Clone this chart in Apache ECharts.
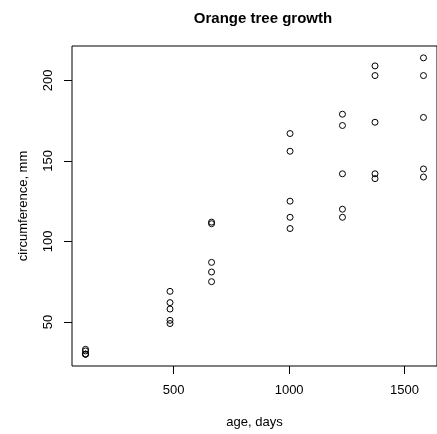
<!DOCTYPE html>
<html>
<head>
<meta charset="utf-8">
<script src="https://cdn.jsdelivr.net/npm/echarts@6/dist/echarts.min.js"></script>
<style>html,body{margin:0;padding:0;background:#fff;}#c{width:437px;height:434px;}</style>
</head>
<body>
<div id="c"></div>
<script>
// Orange tree data (age in days, circumference in mm) for trees 1..5
const ages = [118, 484, 664, 1004, 1231, 1372, 1582];
const tree1 = [30, 58, 87, 115, 120, 142, 145];
const tree2 = [33, 69, 111, 156, 172, 203, 203];
const tree3 = [30, 51, 75, 108, 115, 139, 140];
const tree4 = [32, 62, 112, 167, 179, 209, 214];
const tree5 = [30, 49, 81, 125, 142, 174, 177];
const xTicks = [500, 1000, 1500];
const yTicks = [50, 100, 150, 200];

const trees = [tree1, tree2, tree3, tree4, tree5];
const points = [];
trees.forEach(t => t.forEach((v, i) => points.push([ages[i], v])));

const xmin = 118 - 0.04 * (1582 - 118), xmax = 1582 + 0.04 * (1582 - 118);
const ymin = 30 - 0.04 * (214 - 30), ymax = 214 + 0.04 * (214 - 30);

const font = '"Liberation Sans", Arial, sans-serif';
const chart = echarts.init(document.getElementById('c'), null, {renderer: 'canvas', devicePixelRatio: 1});
chart.setOption({
  animation: false,
  backgroundColor: '#fff',
  title: {
    text: 'Orange tree growth',
    left: 258, top: 6, textAlign: 'center',
    textStyle: {fontFamily: font, fontSize: 15, fontWeight: 'bold', color: '#000'}
  },
  grid: {left: 72, top: 46, width: 375, height: 325, show: true, borderColor: '#000', borderWidth: 1, backgroundColor: 'transparent'},
  xAxis: {
    type: 'value', min: xmin, max: xmax,
    name: 'age, days', nameLocation: 'middle', nameGap: 50,
    nameTextStyle: {fontFamily: font, fontSize: 13, color: '#000'},
    axisLine: {show: false},
    splitLine: {show: false},
    axisTick: {show: true, inside: false, length: 8, lineStyle: {color: '#000'}, customValues: xTicks},
    axisLabel: {fontFamily: font, fontSize: 13, color: '#000', margin: 18, customValues: xTicks, formatter: v => String(v)}
  },
  yAxis: {
    type: 'value', min: ymin, max: ymax,
    name: 'circumference, mm', nameLocation: 'middle', nameGap: 42, nameRotate: 90,
    nameTextStyle: {fontFamily: font, fontSize: 13, color: '#000'},
    axisLine: {show: false},
    splitLine: {show: false},
    axisTick: {show: true, inside: false, length: 8, lineStyle: {color: '#000'}, customValues: yTicks},
    axisLabel: {fontFamily: font, fontSize: 13, color: '#000', margin: 17, rotate: 90, customValues: yTicks, formatter: v => String(v)}
  },
  series: [{
    type: 'custom',
    data: points,
    clip: false,
    renderItem: function (params, api) {
      const p = api.coord([api.value(0), api.value(1)]);
      return {
        type: 'circle',
        shape: {cx: p[0], cy: p[1], r: 3},
        style: {fill: 'none', stroke: '#000', lineWidth: 1}
      };
    }
  }]
});
</script>
</body>
</html>
